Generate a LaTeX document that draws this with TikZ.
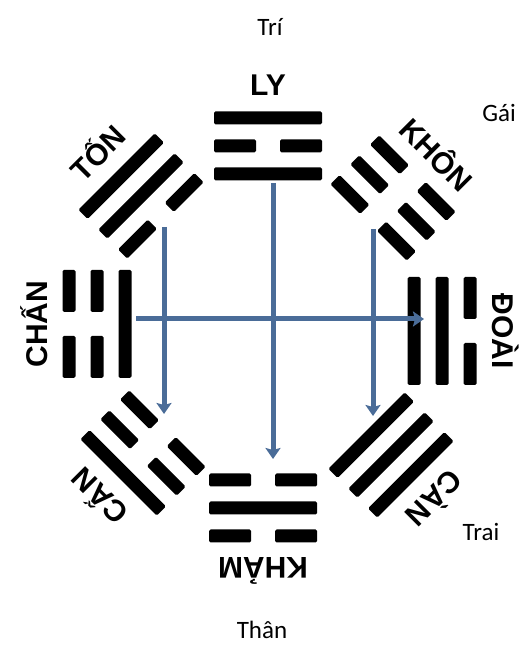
\documentclass[tikz,border=0pt]{standalone}
\usepackage{fontspec}
\usetikzlibrary{arrows.meta}
\newfontfamily\labfont{Liberation Sans}
\newfontfamily\outfont{Carlito}
\definecolor{arrowblue}{RGB}{74,108,152}
\newcommand\fullbar[1]{\fill[rounded corners=1.5pt] ({-54},{#1-6.5}) rectangle ({54},{#1+6.5});}
\newcommand\brokenbar[1]{\fill[rounded corners=1.5pt] ({-54},{#1-6.5}) rectangle ({-12},{#1+6.5});
  \fill[rounded corners=1.5pt] ({12},{#1-6.5}) rectangle ({54},{#1+6.5});}
% #1 name, #2 x, #3 y, #4 outward angle, #5 inner, #6 middle, #7 outer, #8 label
\newcommand\trigram[8]{%
  \begin{scope}[shift={(#2,#3)}, rotate=#4-90]
    #5{-28} #6{0} #7{28}
    \node[lab, transform shape] (#1) at (0,50) {#8};
  \end{scope}}
\begin{document}
\begin{tikzpicture}[x=1pt,y=1pt,
  lab/.style={inner sep=0pt, anchor=base, font=\labfont\bfseries\fontsize{30}{30}\selectfont},
  outerlab/.style={inner sep=0pt, anchor=base, font=\outfont\fontsize{25}{25}\selectfont},
  flow/.style={draw=arrowblue, line width=5pt, -{Stealth[length=11pt,width=15pt,inset=2pt]}}]
\useasboundingbox (0,0) rectangle (524,645);
% trigrams (Later Heaven arrangement)
\trigram{ly}{268}{499}{90}{\fullbar}{\brokenbar}{\fullbar}{LY}
\trigram{kham}{263}{137}{270}{\brokenbar}{\fullbar}{\brokenbar}{KHẢM}
\trigram{chan}{97}{321}{180}{\fullbar}{\brokenbar}{\brokenbar}{CHẤN}
\trigram{doai}{442}{314}{0}{\fullbar}{\fullbar}{\brokenbar}{ĐOÀI}
\trigram{ton}{141}{449}{135}{\brokenbar}{\fullbar}{\fullbar}{TỐN}
\trigram{khon}{393}{447}{45}{\brokenbar}{\brokenbar}{\brokenbar}{KHÔN}
\trigram{can}{143}{192}{225}{\brokenbar}{\brokenbar}{\fullbar}{CẤN}
\trigram{cann}{391}{190}{315}{\fullbar}{\fullbar}{\fullbar}{CÀN}
% outer labels
\node[outerlab] (tri) at (270,609) {Trí};
\node[outerlab] (gai) at (499,523) {Gái};
\node[outerlab] (trai) at (481,104) {Trai};
\node[outerlab] (than) at (262,6) {Thân};
% arrows
\coordinate (h1) at (136,326);
\coordinate (h2) at (424,326);
\coordinate (l1) at (164,418);
\coordinate (l2) at (164,231);
\coordinate (m1) at (273,462);
\coordinate (m2) at (273,186);
\coordinate (r1) at (373,416);
\coordinate (r2) at (373,229);
\draw[flow] (l1) -- (l2);
\draw[flow] (m1) -- (m2);
\draw[flow] (r1) -- (r2);
\draw[flow] (h1) -- (h2);
\end{tikzpicture}
\end{document}
